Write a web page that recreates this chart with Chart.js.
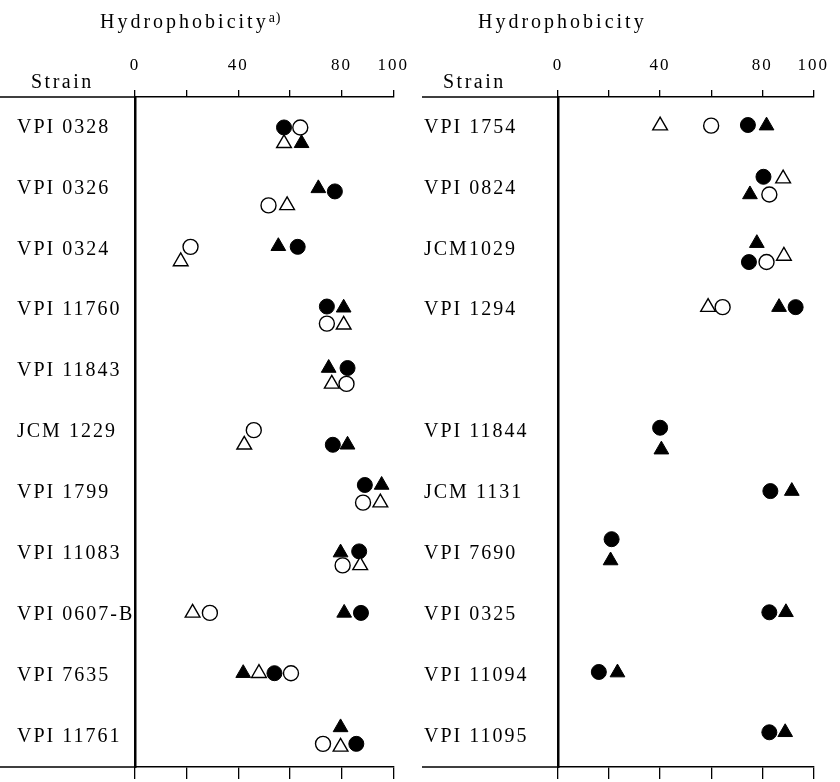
<!DOCTYPE html>
<html>
<head>
<meta charset="utf-8">
<title>Hydrophobicity of strains</title>
<script src="https://cdn.jsdelivr.net/npm/chart.js"></script>
<style>
  body { margin: 0; background: #fff; }
  #wrap { position: relative; width: 840px; height: 782px; }
  canvas { position: absolute; top: 0; }
</style>
</head>
<body>
<div id="wrap">
  <canvas id="left" width="420" height="782" style="left:0"></canvas>
  <canvas id="right" width="420" height="782" style="left:420px"></canvas>
</div>
<script>
  // values (hydrophobicity, %)
  const tickLabels = [0, 40, 80, 100];

  const leftStrains = ['VPI 0328', 'VPI 0326', 'VPI 0324', 'VPI 11760', 'VPI 11843', 'JCM 1229',
                       'VPI 1799', 'VPI 11083', 'VPI 0607-B', 'VPI 7635', 'VPI 11761'];
  const leftRows = [0, 1, 2, 3, 4, 5, 6, 7, 8, 9, 10];
  const leftFilledCircle = [57.7, 77.4, 63, 74.3, 82.3, 76.6, 89, 86.8, 87.5, 54, 85.7];
  const leftOpenCircle   = [64, 51.7, 21.5, 74.3, 81.9, 46, 88.3, 80.4, 29, 60.4, 72.8];
  const leftFilledTri    = [64.5, 71, 55.5, 80.8, 75, 82.3, 95.5, 79.6, 81, 41.9, 79.6];
  const leftOpenTri      = [57.7, 58.9, 17.7, 80.8, 76.2, 42.3, 95, 87.2, 22.3, 48, 79.6];
  // small vertical shifts (in rows) where the symbols are stacked
  const leftFilledCircleShift = [0, 0.05, -0.04, -0.06, -0.05, 0.21, -0.13, -0.04, -0.03, -0.04, 0.12];
  const leftOpenCircleShift   = [0, 0.28, -0.04, 0.22, 0.21, -0.03, 0.16, 0.19, -0.03, -0.04, 0.12];
  const leftFilledTriShift    = [0.26, 0, -0.05, -0.04, -0.05, 0.21, -0.13, -0.02, -0.03, -0.04, -0.15];
  const leftOpenTriShift      = [0.26, 0.28, 0.2, 0.24, 0.21, 0.21, 0.16, 0.19, -0.03, -0.04, 0.17];

  const rightStrains = ['VPI 1754', 'VPI 0824', 'JCM1029', 'VPI 1294', '', 'VPI 11844', 'JCM 1131',
                        'VPI 7690', 'VPI 0325', 'VPI 11094', 'VPI 11095'];
  const rightRows = [0, 1, 2, 3, 5, 6, 7, 8, 9, 10];
  const rightFilledCircle = [74.4, 80.5, 74.8, 93.1, 40, 83.2, 21, 82.8, 16, 82.8];
  const rightFilledTri    = [81.7, 75.2, 77.9, 86.6, 40.5, 91.6, 20.6, 89.3, 23.3, 89];
  const rightOpenCircle   = [60, 82.8, 81.7, 64.5];
  const rightOpenTri      = [40, 88.2, 88.5, 58.8];
  const rightFilledCircleShift = [-0.04, -0.19, 0.21, -0.05, -0.07, -0.03, -0.24, -0.04, -0.06, -0.07];
  const rightFilledTriShift    = [-0.03, 0.1, -0.1, -0.05, 0.29, -0.03, 0.11, -0.04, -0.05, -0.07];
  const rightOpenCircleShift   = [-0.03, 0.1, 0.21, -0.05];
  const rightOpenTriShift      = [-0.03, -0.16, 0.11, -0.05];

  const INK = '#000';
  const SERIF = '"Liberation Serif", "DejaVu Serif", serif';

  const paperLook = {
    id: 'paperLook',
    beforeDraw(chart) {
      chart.ctx.letterSpacing = '2px';
    },
    afterDraw(chart, args, opts) {
      const { ctx, chartArea: a } = chart;
      ctx.save();
      // axis lines run on over the strain column
      ctx.strokeStyle = INK;
      ctx.lineWidth = 1.5;
      ctx.beginPath();
      ctx.moveTo(opts.lineFrom, a.top); ctx.lineTo(a.left, a.top);
      ctx.moveTo(opts.lineFrom, a.bottom); ctx.lineTo(a.left, a.bottom);
      ctx.stroke();

      ctx.fillStyle = INK;
      ctx.textBaseline = 'alphabetic';
      ctx.textAlign = 'left';
      ctx.letterSpacing = '3px';
      ctx.font = '20px ' + SERIF;
      ctx.fillText(opts.title, opts.titleX, 28);
      if (opts.note) {
        const w = ctx.measureText(opts.title).width;
        ctx.letterSpacing = '1px';
        ctx.font = '14px ' + SERIF;
        ctx.fillText(opts.note, opts.titleX + w, 22);
      }
      ctx.letterSpacing = '2.5px';
      ctx.font = '20px ' + SERIF;
      ctx.fillText('Strain', opts.strainX, 88);
      ctx.restore();
    }
  };

  function series(values, shifts, rows, style) {
    return Object.assign({
      data: values.map((v, i) => ({ x: v, y: rows[i] + shifts[i] })),
      borderColor: INK,
      borderWidth: 1.4,
      hoverRadius: 0
    }, style);
  }

  function makePanel(id, strains, rows, sets, padLeft, deco) {
    return new Chart(document.getElementById(id), {
      type: 'scatter',
      data: {
        datasets: [
          series(sets.oc, sets.ocs, rows.slice(0, sets.oc.length), { pointStyle: 'circle', pointRadius: 7.5, backgroundColor: '#fff' }),
          series(sets.ot, sets.ots, rows.slice(0, sets.ot.length), { pointStyle: 'triangle', pointRadius: 8.5, backgroundColor: '#fff' }),
          series(sets.fc, sets.fcs, rows, { pointStyle: 'circle', pointRadius: 7.5, backgroundColor: INK, borderWidth: 1 }),
          series(sets.ft, sets.fts, rows, { pointStyle: 'triangle', pointRadius: 8.5, backgroundColor: INK, borderWidth: 1 })
        ]
      },
      options: {
        responsive: false,
        animation: false,
        layout: { padding: { left: padLeft, right: 20, top: 0, bottom: 0 } },
        plugins: {
          legend: { display: false },
          tooltip: { enabled: false },
          paperLook: deco
        },
        scales: {
          x: {
            type: 'linear', position: 'top', min: 0, max: 100,
            ticks: {
              stepSize: 20, padding: 14, color: INK,
              font: { family: SERIF, size: 17 },
              callback: v => tickLabels.includes(v) ? String(v) : ''
            },
            grid: { drawOnChartArea: false, tickLength: 7, color: INK, lineWidth: 1.3 },
            border: { color: INK, width: 1.5 },
            afterFit: s => { s.height = 97; }
          },
          x2: {
            type: 'linear', position: 'bottom', min: 0, max: 100,
            ticks: { stepSize: 20, display: false },
            grid: { drawOnChartArea: false, tickLength: 12, color: INK, lineWidth: 1.3 },
            border: { color: INK, width: 1.5 },
            afterFit: s => { s.height = 12; }
          },
          y: {
            type: 'linear', reverse: true, min: -0.5, max: 10.5,
            afterBuildTicks: s => { s.ticks = strains.map((_, i) => ({ value: i })); },
            ticks: {
              crossAlign: 'far', color: INK,
              font: { family: SERIF, size: 20 },
              callback: v => strains[v]
            },
            grid: { display: false },
            border: { color: INK, width: 2.5 },
            afterFit: s => { s.width = (id === 'left' ? 135 : 138) - padLeft; }
          }
        }
      },
      plugins: [paperLook]
    });
  }

  makePanel('left', leftStrains, leftRows, {
    fc: leftFilledCircle, fcs: leftFilledCircleShift,
    oc: leftOpenCircle, ocs: leftOpenCircleShift,
    ft: leftFilledTri, fts: leftFilledTriShift,
    ot: leftOpenTri, ots: leftOpenTriShift
  }, 17, { title: 'Hydrophobicity', note: 'a)', titleX: 100, strainX: 31, lineFrom: 0 });

  makePanel('right', rightStrains, rightRows, {
    fc: rightFilledCircle, fcs: rightFilledCircleShift,
    oc: rightOpenCircle, ocs: rightOpenCircleShift,
    ft: rightFilledTri, fts: rightFilledTriShift,
    ot: rightOpenTri, ots: rightOpenTriShift
  }, 4, { title: 'Hydrophobicity', note: '', titleX: 58, strainX: 23, lineFrom: 2 });
</script>
</body>
</html>
